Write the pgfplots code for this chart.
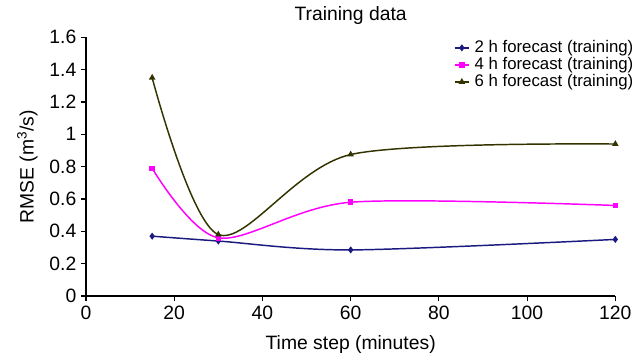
\documentclass[border=0pt]{standalone}
\usepackage{pgfplots}
\pgfplotsset{compat=1.18}
\usepackage{fontspec}
\setmainfont{Liberation Sans}
\definecolor{c2}{HTML}{1A1A80}
\definecolor{c4}{HTML}{FF00FF}
\definecolor{c6}{HTML}{333300}
\begin{document}
\begin{tikzpicture}
\useasboundingbox (-64.5pt,-48pt) rectangle (411.75pt,222pt);
\begin{axis}[
  at={(0,0)}, anchor=south west,
  width=397pt, height=194pt, scale only axis,
  xmin=0, xmax=120, ymin=0, ymax=1.6,
  xtick={0,20,40,60,80,100,120},
  ytick={0,0.2,0.4,0.6,0.8,1,1.2,1.4,1.6},
  axis lines*=left,
  axis line style={line width=1pt, -},
  tick align=outside, tick style={black, line width=0.8pt}, major tick length=3.75pt,
  /pgf/number format/assume math mode=true,
  ticklabel style={font=\fontsize{14.5}{16}\selectfont},
  yticklabel style={/pgf/number format/fixed, /pgf/number format/precision=1},
  xlabel={Time step (minutes)}, ylabel={RMSE (m\textsuperscript{3}/s)},
  label style={font=\fontsize{14.5}{16}\selectfont},
  xlabel style={at={(axis description cs:0.5,-0.1894)}, anchor=center},
  ylabel style={at={(axis description cs:-0.1108,0.5)}, anchor=center, rotate=0},
  title={Training data},
  title style={font=\fontsize{14.5}{16}\selectfont, at={(axis description cs:0.5,1.055)}, anchor=center},
  legend style={draw=none, fill=none, at={(axis description cs:1.037,0.995)}, anchor=north east,
    inner sep=0pt, font=\fontsize{12.6}{14}\selectfont, row sep=-0.75pt, column sep=2.5pt,
    nodes={inner sep=1pt, text height=9pt, text depth=2.5pt}, cells={anchor=west}},
  legend image code/.code={\draw[mark repeat=2,mark phase=2,#1] plot coordinates {(0pt,0pt) (5.5pt,0pt) (11pt,0pt)};},
]
\addplot[c2, line width=1.1pt, smooth, mark=diamond*, mark size=1.8pt] coordinates {(15,0.37) (30,0.34) (60,0.285) (120,0.35)};
\addlegendentry{2 h forecast (training)}
\addplot[c4, line width=1.1pt, smooth, mark=square*, mark size=1.5pt] coordinates {(15,0.79) (30,0.36) (60,0.58) (120,0.56)};
\addlegendentry{4 h forecast (training)}
\addplot[c6, line width=1.1pt, smooth, mark=triangle*, mark size=1.8pt] coordinates {(15,1.35) (30,0.38) (60,0.875) (120,0.94)};
\addlegendentry{6 h forecast (training)}
\end{axis}
\end{tikzpicture}
\end{document}
